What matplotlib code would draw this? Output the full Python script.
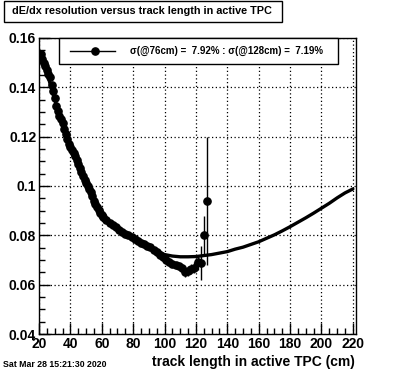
import matplotlib
matplotlib.use("Agg")
import matplotlib.pyplot as plt
from matplotlib.ticker import MultipleLocator
from matplotlib.lines import Line2D

plt.rcParams['font.family'] = ['Liberation Sans', 'DejaVu Sans']
plt.rcParams['font.weight'] = 'bold'

# measured resolution points (track length cm, resolution)
meas_x = [21, 22, 23, 24, 25, 26, 27, 28, 29, 30, 31, 32, 33, 34, 35, 36, 37, 38,
          39, 40, 41, 42, 43, 44, 45, 46, 47, 48, 49, 50, 51, 52, 53, 54, 55, 56,
          57, 58, 59, 60,
          61, 63, 65, 67, 69, 71, 73, 75, 77, 79, 81, 83, 85, 87, 89, 91,
          93, 95, 97, 99, 101, 103, 105, 107, 109, 111, 113, 115, 117, 119, 121,
          123, 125, 127]
meas_y = [0.1535, 0.1515, 0.150, 0.1485, 0.147, 0.1455, 0.144, 0.141, 0.1385,
          0.1355, 0.1325, 0.1305, 0.1285, 0.127, 0.1255, 0.1232, 0.121, 0.119,
          0.117, 0.1157, 0.1145, 0.1132, 0.112, 0.1105, 0.109, 0.1072, 0.1055,
          0.104, 0.1025, 0.1012, 0.100, 0.0988, 0.0975, 0.0958, 0.094, 0.0927,
          0.0915, 0.0902, 0.089, 0.0882,
          0.0875, 0.0862, 0.0852, 0.0842, 0.0832, 0.0822, 0.0812, 0.0805, 0.0800,
          0.0795, 0.0785, 0.0777, 0.0770, 0.0765, 0.0758, 0.0752, 0.0742, 0.0733,
          0.0722, 0.0712, 0.0702, 0.0692, 0.0683, 0.0678, 0.0675, 0.0668, 0.0650,
          0.0655, 0.0662, 0.0668, 0.0690, 0.0688, 0.0800, 0.0940]
meas_err = [0.0005] * 65 + [0.0015, 0.0018, 0.002, 0.002, 0.0022, 0.003,
                            0.0068, 0.0080, 0.0260]

# fitted curve
fit_x = [20, 25, 30, 35, 40, 45, 50, 55, 60, 65, 70, 75, 80, 85, 90, 95, 100, 105,
         110, 115, 120, 125, 130, 135, 140, 145, 150, 155, 160, 165, 170, 175, 180,
         185, 190, 195, 200, 205, 210, 215, 220]
fit_y = [0.155, 0.146, 0.135, 0.1255, 0.116, 0.109, 0.1015, 0.094, 0.089, 0.0852,
         0.0827, 0.0805, 0.0790, 0.0770, 0.0755, 0.0738, 0.0722, 0.0716, 0.0713,
         0.0713, 0.0714, 0.0718, 0.0722, 0.0728, 0.0734, 0.0744, 0.0752, 0.0763,
         0.0774, 0.0788, 0.0802, 0.0818, 0.0835, 0.0853, 0.0871, 0.0890, 0.0910,
         0.0930, 0.0952, 0.0972, 0.0988]

title = "dE/dx resolution versus track length in active TPC"
xlabel = "track length in active TPC (cm)"
legend_text = "σ(@76cm) =  7.92% : σ(@128cm) =  7.19%"
date_text = "Sat Mar 28 15:21:30 2020"

W, H = 396, 372
fig = plt.figure(figsize=(W / 100, H / 100), dpi=100)
ax = fig.add_axes([39 / W, 1 - 334 / H, (356 - 39) / W, (334 - 38) / H])

ax.plot(fit_x, fit_y, color='black', lw=2.4, solid_capstyle='round', zorder=3)
ax.errorbar(meas_x, meas_y, yerr=meas_err, fmt='o', color='black', ms=5.2,
            elinewidth=1.0, capsize=0, zorder=4)

ax.set_xlim(20, 222)
ax.set_ylim(0.04, 0.16)
ax.xaxis.set_major_locator(MultipleLocator(20))
ax.xaxis.set_minor_locator(MultipleLocator(5))
ax.yaxis.set_major_locator(MultipleLocator(0.02))
ax.yaxis.set_minor_locator(MultipleLocator(0.005))
ax.set_yticks([0.04, 0.06, 0.08, 0.1, 0.12, 0.14, 0.16])
ax.set_yticklabels(['0.04', '0.06', '0.08', '0.1', '0.12', '0.14', '0.16'])
ax.tick_params(which='major', direction='in', length=8, width=1, labelsize=10,
               pad=2, top=False, right=False)
ax.tick_params(which='minor', direction='in', length=4, width=1, top=False, right=False)
for lab in ax.get_xticklabels() + ax.get_yticklabels():
    lab.set_fontweight('bold')
ax.grid(True, which='major', color='black', ls=(0, (1, 2)), lw=0.9)
for s in ax.spines.values():
    s.set_linewidth(1.0)

# x label
fig.text(355 / W, 1 - 362 / H, xlabel, ha='right', va='center', fontsize=10.0,
         fontweight='bold')
# date
fig.text(3 / W, 1 - 364.5 / H, date_text, ha='left', va='center', fontsize=6.3,
         fontweight='bold')

# title box
fig.text(12 / W, 1 - 11.5 / H, title, ha='left', va='center', fontsize=7.85,
         fontweight='bold', zorder=5)
fig.patches.append(plt.Rectangle((4 / W, 1 - 22 / H), (282 - 4) / W, 21 / H,
                                 transform=fig.transFigure, facecolor='white',
                                 edgecolor='black', lw=1.0, zorder=1))

# legend box
fig.patches.append(plt.Rectangle((59 / W, 1 - 64 / H), (338 - 59) / W, 26 / H,
                                 transform=fig.transFigure, facecolor='white',
                                 edgecolor='black', lw=1.0, zorder=10))
fig.lines.append(Line2D([70 / W, 115 / W], [1 - 51 / H, 1 - 51 / H],
                        transform=fig.transFigure, color='black', lw=1.0, zorder=11))
fig.lines.append(Line2D([95 / W], [1 - 51 / H], transform=fig.transFigure,
                        marker='o', ms=5.2, color='black', zorder=11))
fig.text(130 / W, 1 - 51 / H, legend_text, ha='left', va='center', fontsize=7.0,
         fontweight='bold', zorder=12)

fig.savefig('out.png', dpi=100)
